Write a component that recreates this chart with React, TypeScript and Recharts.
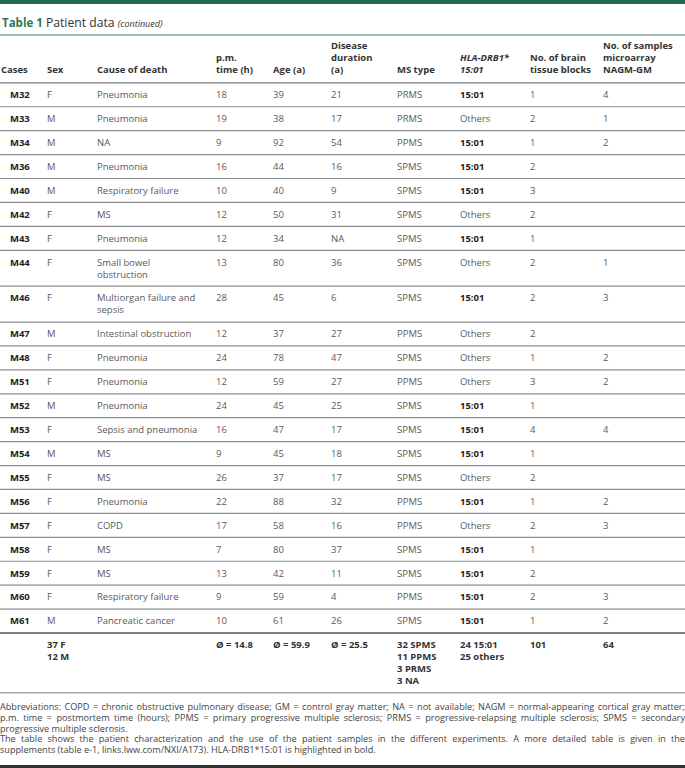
import { ScatterChart, Scatter, XAxis, YAxis, ReferenceLine } from "recharts";

const cases = ["M32", "M33", "M34", "M36", "M40", "M42", "M43", "M44", "M46", "M47", "M48", "M51", "M52", "M53", "M54", "M55", "M56", "M57", "M58", "M59", "M60", "M61"];
const sex = ["F", "M", "M", "M", "M", "F", "F", "F", "F", "M", "F", "F", "M", "F", "M", "F", "F", "F", "F", "F", "F", "M"];
const causeOfDeath = [
  "Pneumonia", "Pneumonia", "NA", "Pneumonia", "Respiratory failure", "MS", "Pneumonia",
  "Small bowel\nobstruction", "Multiorgan failure and\nsepsis", "Intestinal obstruction",
  "Pneumonia", "Pneumonia", "Pneumonia", "Sepsis and pneumonia", "MS", "MS", "Pneumonia",
  "COPD", "MS", "MS", "Respiratory failure", "Pancreatic cancer",
];
const pmTime = ["18", "19", "9", "16", "10", "12", "12", "13", "28", "12", "24", "12", "24", "16", "9", "26", "22", "17", "7", "13", "9", "10"];
const age = ["39", "38", "92", "44", "40", "50", "34", "80", "45", "37", "78", "59", "45", "47", "45", "37", "88", "58", "80", "42", "59", "61"];
const diseaseDuration = ["21", "17", "54", "16", "9", "31", "NA", "36", "6", "27", "47", "27", "25", "17", "18", "17", "32", "16", "37", "11", "4", "26"];
const msType = ["PRMS", "PRMS", "PPMS", "SPMS", "SPMS", "SPMS", "SPMS", "SPMS", "SPMS", "PPMS", "SPMS", "PPMS", "SPMS", "SPMS", "SPMS", "SPMS", "PPMS", "PPMS", "SPMS", "SPMS", "PPMS", "SPMS"];
const hla = ["15:01", "Others", "15:01", "15:01", "15:01", "Others", "15:01", "Others", "15:01", "Others", "Others", "Others", "15:01", "15:01", "15:01", "Others", "15:01", "Others", "15:01", "15:01", "15:01", "15:01"];
const brainBlocks = ["1", "2", "1", "2", "3", "2", "1", "2", "2", "2", "1", "3", "1", "4", "1", "2", "1", "2", "1", "2", "2", "1"];
const microarraySamples = ["4", "1", "2", "", "", "", "", "1", "3", "", "2", "2", "", "4", "", "", "2", "3", "", "", "3", "2"];

const headerLabels = [
  ["Cases"], ["Sex"], ["Cause of death"], ["p.m.", "time (h)"], ["Age (a)"],
  ["Disease", "duration", "(a)"], ["MS type"], ["HLA-DRB1*", "15:01"],
  ["No. of brain", "tissue blocks"], ["No. of samples", "microarray", "NAGM-GM"],
];
const totalLabels = [
  [], ["37 F", "12 M"], [], ["Ø = 14.8"], ["Ø = 59.9"], ["Ø = 25.5"],
  ["32 SPMS", "11 PPMS", "3 PRMS", "3 NA"], ["24 15:01", "25 others"], ["101"], ["64"],
];

const COL_X = [1, 47, 97, 216, 273, 331, 397, 460, 530, 603];
const CASE_INDENT = 9;
const UNIT = 11.96;
const HEADER_SPAN = 4;
const TOTAL_SPAN = 5;
const FONT = "'Open Sans', sans-serif";

let cursor = HEADER_SPAN;
const bodyRows = cases.map((c, i) => {
  const cause = causeOfDeath[i].split("\n");
  const row = {
    x: 0,
    y: cursor,
    span: cause.length + 1,
    cells: [[c], [sex[i]], cause, [pmTime[i]], [age[i]], [diseaseDuration[i]], [msType[i]], [hla[i]], [brainBlocks[i]], [microarraySamples[i]]],
  };
  cursor += row.span;
  return row;
});
const totalsTop = cursor;
const domainMax = totalsTop + TOTAL_SPAN + 1;
const CHART_H = domainMax * UNIT;

const headerData = [{ x: 0, y: 0, cells: headerLabels }];
const totalsData = [{ x: 0, y: totalsTop, cells: totalLabels }];

const HeaderRow = (props: any) => {
  const { cx, cy, payload } = props;
  return (
    <g>
      {payload.cells.map((lines: string[], col: number) =>
        lines.map((t, k) => (
          <text
            key={`${col}-${k}`}
            x={cx + COL_X[col]}
            y={cy + (HEADER_SPAN - lines.length + k) * UNIT - 1.5}
            dy="0.35em"
            fontSize={9.5}
            fontFamily={FONT}
            fontWeight={700}
            fontStyle={col === 7 ? "italic" : "normal"}
            fill="#333"
          >
            {t}
          </text>
        ))
      )}
    </g>
  );
};

const BodyRow = (props: any) => {
  const { cx, cy, payload } = props;
  return (
    <g>
      {payload.cells.map((lines: string[], col: number) =>
        lines.map((t, k) => {
          const bold = col === 0 || (col === 7 && t === "15:01");
          return (
            <text
              key={`${col}-${k}`}
              x={cx + COL_X[col] + (col === 0 ? CASE_INDENT : 0)}
              y={cy + (k + 1) * UNIT}
              dy="0.35em"
              fontSize={9.5}
              fontFamily={FONT}
              fontWeight={bold ? 700 : 400}
              fill={bold ? "#222" : "#5a5a5a"}
            >
              {t}
            </text>
          );
        })
      )}
    </g>
  );
};

const TotalsRow = (props: any) => {
  const { cx, cy, payload } = props;
  return (
    <g>
      {payload.cells.map((lines: string[], col: number) =>
        lines.map((t, k) => (
          <text
            key={`${col}-${k}`}
            x={cx + COL_X[col]}
            y={cy + (k + 1) * UNIT}
            dy="0.35em"
            fontSize={9.5}
            fontFamily={FONT}
            fontWeight={700}
            fill="#333"
          >
            {t}
          </text>
        ))
      )}
    </g>
  );
};

const footerLines: Array<[string, boolean]> = [
  ["Abbreviations: COPD = chronic obstructive pulmonary disease; GM = control gray matter; NA = not available; NAGM = normal-appearing cortical gray matter;", true],
  ["p.m. time = postmortem time (hours); PPMS = primary progressive multiple sclerosis; PRMS = progressive-relapsing multiple sclerosis; SPMS = secondary", true],
  ["progressive multiple sclerosis.", false],
  ["The table shows the patient characterization and the use of the patient samples in the different experiments. A more detailed table is given in the", true],
  ["supplements (table e-1, links.lww.com/NXI/A173). HLA-DRB1*15:01 is highlighted in bold.", false],
];

const FOOT_SCALE = 0.95;

export default function App() {
  return (
    <div style={{ position: "relative", width: 685, height: 768, background: "#fff", overflow: "hidden", fontFamily: FONT }}>
      <style>{"body{margin:0}"}</style>
      <div style={{ position: "absolute", left: 0, top: 0, width: 685, height: 4, background: "#1f6b4d" }} />
      <div style={{ position: "absolute", left: 2, top: 13, lineHeight: "16px", whiteSpace: "nowrap" }}>
        <span style={{ color: "#2a7a57", fontWeight: 700, fontSize: 11.5 }}>Table 1</span>
        <span style={{ color: "#333", fontSize: 12.2 }}> Patient data </span>
        <span style={{ color: "#333", fontSize: 9, fontStyle: "italic" }}>(continued)</span>
      </div>
      <div style={{ position: "absolute", left: 0, top: 34, width: 685, height: 2, background: "#9dbfb2" }} />

      <div style={{ position: "absolute", left: 0, top: 35 }}>
        <ScatterChart width={685} height={CHART_H} margin={{ top: 0, right: 0, bottom: 0, left: 0 }}>
          <XAxis type="number" dataKey="x" domain={[0, 1]} hide />
          <YAxis type="number" dataKey="y" domain={[0, domainMax]} reversed hide />
          <ReferenceLine y={HEADER_SPAN} stroke="#7a7a7a" strokeWidth={1.3} />
          {bodyRows.slice(0, -1).map((r) => (
            <ReferenceLine key={r.cells[0][0]} y={r.y + r.span} stroke="#8f8f8f" strokeWidth={1.2} />
          ))}
          <ReferenceLine y={totalsTop} stroke="#555" strokeWidth={1.6} />
          <ReferenceLine y={totalsTop + TOTAL_SPAN} stroke="#a8a8a8" strokeWidth={1.6} />
          <Scatter data={headerData} shape={HeaderRow} isAnimationActive={false} />
          <Scatter data={bodyRows} shape={BodyRow} isAnimationActive={false} />
          <Scatter data={totalsData} shape={TotalsRow} isAnimationActive={false} />
        </ScatterChart>
      </div>

      <div
        style={{
          position: "absolute",
          left: 0,
          top: 702,
          width: 685 / FOOT_SCALE,
          transform: `scaleX(${FOOT_SCALE})`,
          transformOrigin: "left top",
          fontSize: 9.6,
          lineHeight: "10.8px",
          color: "#444",
        }}
      >
        {footerLines.map(([t, full], i) => (
          <div
            key={i}
            style={{ height: 10.8, whiteSpace: "nowrap", textAlign: full ? "justify" : "left", textAlignLast: full ? "justify" : "left" }}
          >
            {t}
          </div>
        ))}
      </div>
      <div style={{ position: "absolute", left: 0, top: 765, width: 685, height: 3, background: "#333" }} />
    </div>
  );
}
